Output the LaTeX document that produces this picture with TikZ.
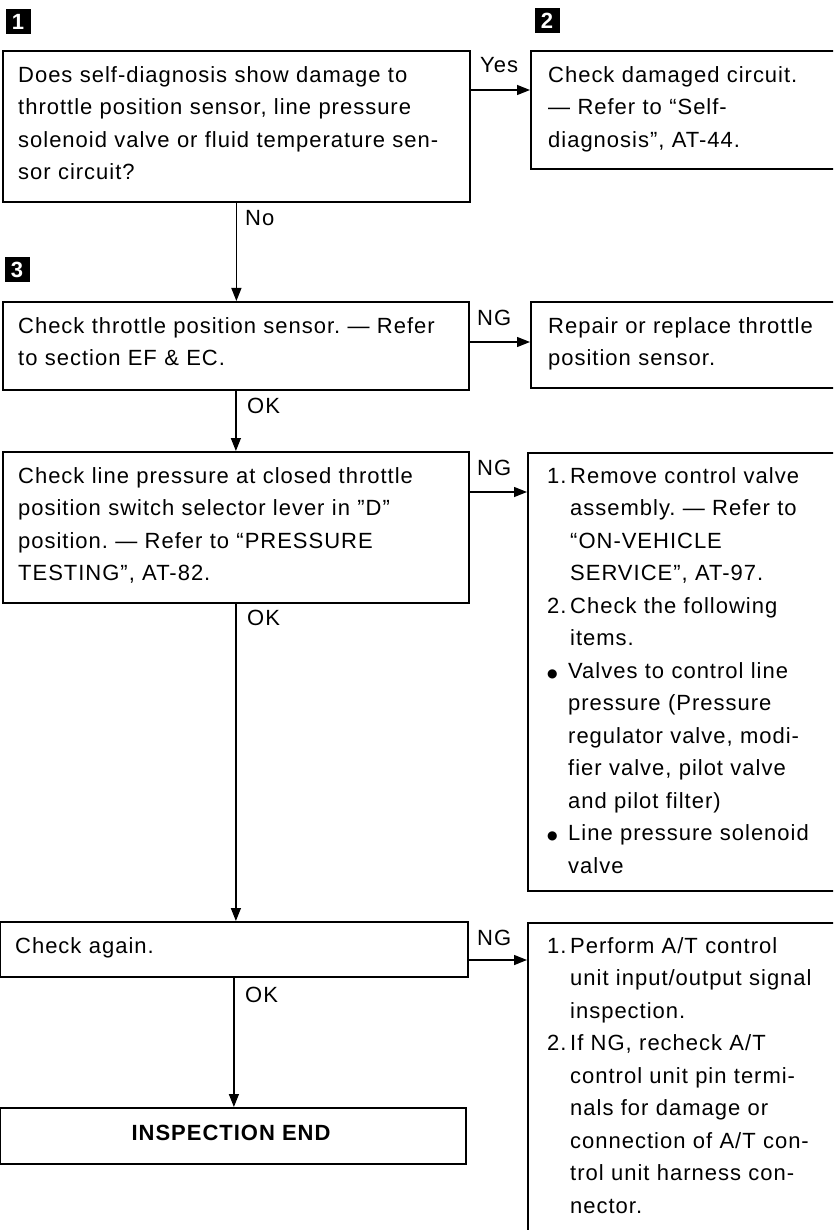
\documentclass[tikz,border=0pt]{standalone}
\usepackage{fontspec}
\setmainfont{Liberation Sans}[LetterSpace=4.5]
\newfontfamily\dejavu{DejaVu Sans}
\usetikzlibrary{arrows.meta}
\frenchspacing
\newcommand{\itm}[1]{\makebox[23pt][l]{#1}}
\newcommand{\ind}{\hspace*{23pt}}
\newcommand{\bul}{\makebox[21pt][l]{\raisebox{1pt}{\dejavu\fontsize{12}{12}\selectfont ●}}}
\newcommand{\bind}{\hspace*{21pt}}
\begin{document}
\begin{tikzpicture}[x=1pt,y=-1pt,
  box/.style={draw, line width=1.8pt, anchor=north west, inner sep=0pt},
  txt/.style={anchor=north west, inner sep=0pt, align=left, text width=455pt, font=\fontsize{22}{32.5}\selectfont},
  lab/.style={anchor=base west, inner sep=0pt, font=\fontsize{22}{26}\selectfont},
  arr/.style={line width=1.4pt, -{Triangle[length=13pt,width=10pt]}},
  marker/.style={fill=black, minimum size=25pt, inner sep=0pt, text=white, font=\bfseries\fontsize{22}{22}\selectfont}
]
\useasboundingbox (0,0) rectangle (833,1230);
\clip (0,0) rectangle (833,1230);
\fill[white] (0,0) rectangle (833,1230);

% markers
\node[marker] (m1) at (18,22) {1};
\node[marker] (m2) at (547,21) {2};
\node[marker] (m3) at (17,270) {3};

% left boxes
\node[box, minimum width=467pt, minimum height=151pt] (q1) at (2,50) {};
\node[box, minimum width=466pt, minimum height=88pt] (q3) at (2,301) {};
\node[box, minimum width=466pt, minimum height=151pt] (q4) at (2,451) {};
\node[box, minimum width=468pt, minimum height=55pt] (q5) at (-1,921) {};
\node[box, minimum width=466pt, minimum height=56pt] (q6) at (-1,1107) {};

% right boxes
\node[box, minimum width=320pt, minimum height=118pt] (r1) at (530,50) {};
\node[box, minimum width=320pt, minimum height=86pt] (r3) at (530,301) {};
\node[box, minimum width=323pt, minimum height=438pt] (r4) at (527,452) {};
\node[box, minimum width=323pt, minimum height=340pt] (r5) at (527,922) {};

% texts
\node[txt] (tq1) at (18,59.25) {\strut Does self-diagnosis show damage to\\throttle position sensor, line pressure\\solenoid valve or fluid temperature sen-\\sor circuit?};
\node[txt] (tr1) at (548,59.25) {\strut Check damaged circuit.\\— Refer to ``Self-\\diagnosis'', AT-44.};
\node[txt] (tq3) at (18,310.25) {\strut Check throttle position sensor. — Refer\\to section EF \& EC.};
\node[txt] (tr3) at (548,310.25) {\strut Repair or replace throttle\\position sensor.};
\node[txt] (tq4) at (18,460.25) {\strut Check line pressure at closed throttle\\position switch selector lever in ''D''\\position. — Refer to ``PRESSURE\\TESTING'', AT-82.};
\node[txt] (tr4) at (547,460.25) {\strut\itm{1.}Remove control valve\\\ind assembly. — Refer to\\\ind ``ON-VEHICLE\\\ind SERVICE'', AT-97.\\\itm{2.}Check the following\\\ind items.\\\bul Valves to control line\\\bind pressure (Pressure\\\bind regulator valve, modi-\\\bind fier valve, pilot valve\\\bind and pilot filter)\\\bul Line pressure solenoid\\\bind valve};
\node[txt] (tq5) at (15,930.25) {\strut Check again.};
\node[txt] (tr5) at (547,930.25) {\strut\itm{1.}Perform A/T control\\\ind unit input/output signal\\\ind inspection.\\\itm{2.}If NG, recheck A/T\\\ind control unit pin termi-\\\ind nals for damage or\\\ind connection of A/T con-\\\ind trol unit harness con-\\\ind nector.};
\node[anchor=base, inner sep=0pt, font=\bfseries\fontsize{22}{26}\selectfont] (tq6) at (231,1140) {INSPECTION END};

% labels
\node[lab] (yes) at (480,73) {Yes};
\node[lab] (no) at (245,226) {No};
\node[lab] (ng1) at (477,325) {NG};
\node[lab] (ok1) at (247,413) {OK};
\node[lab] (ng2) at (477,475) {NG};
\node[lab] (ok2) at (247,625) {OK};
\node[lab] (ng3) at (477,945) {NG};
\node[lab] (ok3) at (245,1002) {OK};

% connectors
\draw[arr] (q1.south) -- (q1.south |- q3.north);
\draw[arr] (q3.south) -- (q3.south |- q4.north);
\draw[arr] (q4.south) -- (q4.south |- q5.north);
\draw[arr] (q5.south) -- (q5.south |- q6.north);
\draw[arr] ([yshift=-40pt]q1.north east) -- ([yshift=-40pt]q1.north east -| r1.west);
\draw[arr] ([yshift=-41pt]q3.north east) -- ([yshift=-41pt]q3.north east -| r3.west);
\draw[arr] ([yshift=-41pt]q4.north east) -- ([yshift=-41pt]q4.north east -| r4.west);
\draw[arr] ([yshift=-39pt]q5.north east) -- ([yshift=-39pt]q5.north east -| r5.west);
\end{tikzpicture}
\end{document}
